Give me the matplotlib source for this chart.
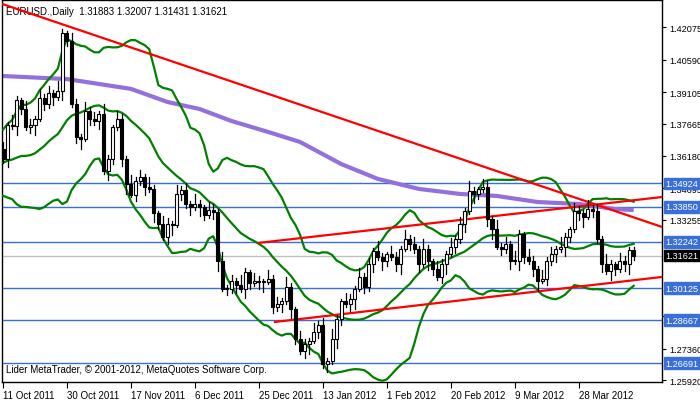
import numpy as np
import pandas as pd
import matplotlib
matplotlib.use("Agg")
import matplotlib.pyplot as plt
from matplotlib.patches import Rectangle

plt.rcParams['font.family'] = ['Liberation Sans', 'DejaVu Sans']

closes = [1.3604,1.3760,1.3755,1.3874,1.3833,1.3751,1.3760,1.3787,1.3884,1.3856,
          1.3907,1.3888,1.3916,1.4181,1.4145,1.3856,1.3705,1.3696,1.3824,1.3787,
          1.3778,1.3810,1.3549,1.3604,1.3751,1.3787,1.3604,1.3490,1.3439,1.3503,
          1.3522,1.3476,1.3467,1.3357,1.3307,1.3247,1.3307,1.3302,1.3444,1.3462,
          1.3398,1.3384,1.3398,1.3384,1.3348,1.3371,1.3361,1.3137,1.3009,1.3009,
          1.3045,1.3027,1.3009,1.3087,1.3036,1.3045,1.3041,1.3041,1.3055,1.2926,
          1.2940,1.2954,1.3018,1.2917,1.2780,1.2725,1.2757,1.2771,1.2812,1.2844,
          1.2665,1.2679,1.2780,1.2871,1.2954,1.2940,1.2963,1.3009,1.3064,1.3018,
          1.3123,1.3183,1.3155,1.3137,1.3169,1.3155,1.3123,1.3192,1.3238,1.3215,
          1.3192,1.3123,1.3192,1.3137,1.3100,1.3064,1.3123,1.3169,1.3201,1.3238,
          1.3307,1.3366,1.3458,1.3444,1.3467,1.3476,1.3329,1.3284,1.3201,1.3192,
          1.3215,1.3137,1.3137,1.3261,1.3155,1.3137,1.3100,1.3045,1.3055,1.3137,
          1.3169,1.3192,1.3201,1.3247,1.3284,1.3366,1.3357,1.3339,1.3375,1.3366,
          1.3238,1.3123,1.3090,1.3123,1.3100,1.3137,1.3123,1.31883,1.31621]
first_open = 1.3650
wick_up = [0.0030,0.0015,0.0045,0.0020,0.0010,0.0035,0.0025,0.0012,0.0040,0.0018]
wick_dn = [0.0020,0.0035,0.0012,0.0040,0.0025,0.0015,0.0030,0.0045,0.0010,0.0028]
prior_closes = [1.3620,1.3580,1.3650,1.3700,1.3680,1.3740,1.3690,1.3620,1.3560,1.3520,
                1.3480,1.3530,1.3600,1.3560,1.3500,1.3450,1.3520,1.3580,1.3620,1.3560]
ma_idx = [0, 14, 28, 36, 43, 50, 58, 65, 74, 82, 91, 100, 108, 117, 126, 134, 138]
ma_val = [1.3984,1.3970,1.3925,1.3865,1.3833,1.3778,1.3728,1.3682,1.3581,1.3513,
          1.3467,1.3444,1.3435,1.3407,1.3398,1.3375,1.3370]
trend_lines = [((-0.2, 1.4314), (144.2, 1.3293)),
               ((56.0, 1.3220), (144.2, 1.3430)),
               ((59.5, 1.2858), (144.2, 1.3064))]
hlines_blue = [1.34924, 1.33850, 1.32242, 1.30125, 1.28667, 1.26691]
last_price = 1.31621
ytick_vals = [1.42075,1.40590,1.39105,1.37665,1.36180,1.34695,1.33255,1.28845,1.27360,1.25920]
date_labels = ["11 Oct 2011","30 Oct 2011","17 Nov 2011","6 Dec 2011","25 Dec 2011",
               "13 Jan 2012","1 Feb 2012","20 Feb 2012","9 Mar 2012","28 Mar 2012"]
date_idx = [0,14,28,42,56,70,84,98,112,126]

FS = 6.6
n = len(closes)
opens = [first_open] + closes[:-1]
highs = [max(o, c) + wick_up[i % 10] for i, (o, c) in enumerate(zip(opens, closes))]
lows = [min(o, c) - wick_dn[i % 10] for i, (o, c) in enumerate(zip(opens, closes))]
highs[-1] = 1.32007; lows[-1] = 1.31431

s = pd.Series(prior_closes + closes)
mid = s.rolling(20).mean().values[len(prior_closes):]
sd = s.rolling(20).std(ddof=0).values[len(prior_closes):]
up = mid + 2 * sd; lo = mid - 2 * sd

fig = plt.figure(figsize=(7.0, 4.02), dpi=100)
ax = fig.add_axes([2/700, 19/402, 660/700, 382/402])
x = np.arange(n)
ax.set_xlim(-0.22, 144.2)
ax.set_ylim(1.2583, 1.4332)

for yv in hlines_blue:
    ax.axhline(yv, color="#3a6fd8", lw=1, zorder=1)
ax.axhline(last_price, color="#c0c0c0", lw=1, zorder=1)

ax.plot(ma_idx, ma_val, color="#9370DB", lw=3, zorder=2, solid_capstyle="butt")
for b in (up, mid, lo):
    ax.plot(x, b, color="#008000", lw=1.6, zorder=3)
for (x0, y0), (x1, y1) in trend_lines:
    ax.plot([x0, x1], [y0, y1], color="#ff0000", lw=1.6, zorder=4)

for i in range(n):
    o, c, h, l = opens[i], closes[i], highs[i], lows[i]
    ax.plot([i, i], [l, h], color="black", lw=0.9, zorder=5)
    ax.add_patch(Rectangle((i - 0.33, min(o, c)), 0.66, max(abs(c - o), 0.0003),
                           facecolor="white" if c >= o else "black",
                           edgecolor="black", lw=0.8, zorder=6))

ax.yaxis.tick_right()
ax.set_yticks(ytick_vals)
ax.set_yticklabels([f"{v:.5f}" for v in ytick_vals], fontsize=FS)
ax.tick_params(axis="y", length=3, pad=2)
ax.set_xticks(date_idx)
ax.set_xticklabels(date_labels, fontsize=FS + 0.4, ha="left")
ax.tick_params(axis="x", length=4, pad=2)
for sp in ax.spines.values():
    sp.set_linewidth(1)

for yv in hlines_blue:
    ax.annotate(f"{yv:.5f}", xy=(1, yv), xycoords=("axes fraction", "data"),
                xytext=(2.5, 0), textcoords="offset points", va="center", ha="left",
                fontsize=FS, color="white", zorder=10,
                bbox=dict(boxstyle="square,pad=0.15", fc="#3a6fd8", ec="#3a6fd8"))
ax.annotate(f"{last_price:.5f}", xy=(1, last_price), xycoords=("axes fraction", "data"),
            xytext=(2.5, 0), textcoords="offset points", va="center", ha="left",
            fontsize=FS, color="white", zorder=10,
            bbox=dict(boxstyle="square,pad=0.15", fc="black", ec="black"))

ax.text(0.006, 0.985, "EURUSD.,Daily  1.31883 1.32007 1.31431 1.31621",
        transform=ax.transAxes, fontsize=FS + 0.4, va="top", ha="left")
ax.text(0.006, 0.02, "Lider MetaTrader, © 2001-2012, MetaQuotes Software Corp.",
        transform=ax.transAxes, fontsize=FS + 0.4, va="bottom", ha="left")

fig.savefig("out.png", dpi=100)
